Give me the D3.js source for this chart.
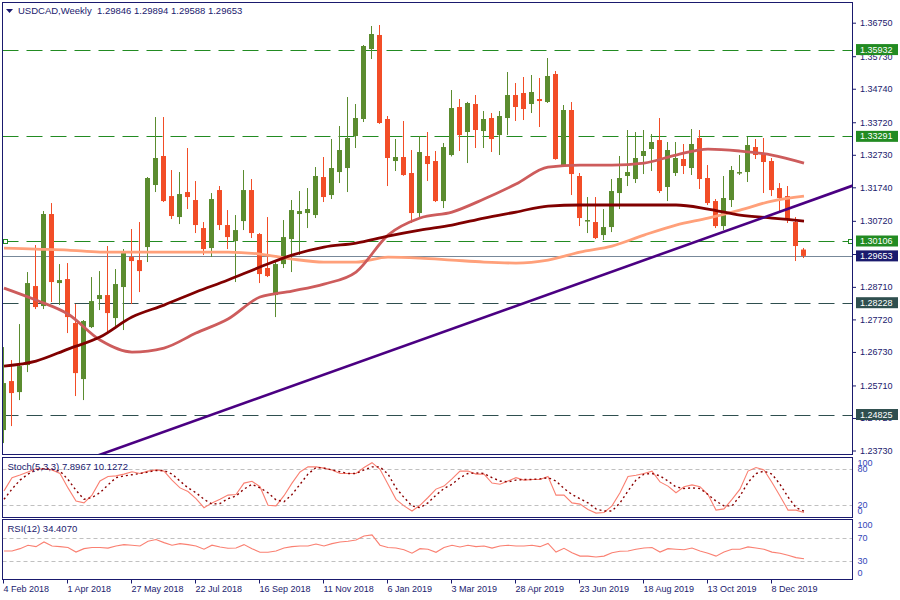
<!DOCTYPE html>
<html><head><meta charset="utf-8">
<script src="https://cdn.jsdelivr.net/npm/d3@7"></script>
<style>
html,body{margin:0;padding:0;background:#fff;}
svg{display:block;}
text{font-family:"Liberation Sans",Arial,sans-serif;}
</style></head><body>
<svg id="c" width="900" height="600"></svg>
<script>
// ---------------- DATA ----------------
const symbolTitle = "USDCAD,Weekly  1.29846 1.29894 1.29588 1.29653";
const stochTitle = "Stoch(5,3,3) 7.8967 10.1272";
const rsiTitle = "RSI(12) 34.4070";

const openP = [1.24352,1.25843,1.25508,1.26330,1.28735,1.28126,1.30927,1.28826,1.28948,1.27609,
1.25904,1.27487,1.28339,1.28461,1.27761,1.28705,1.29618,1.29526,1.29922,1.31810,
1.32693,1.31474,1.30835,1.31596,1.31353,1.30500,1.29892,1.31657,1.30592,1.30105,
1.30713,1.31657,1.30318,1.29283,1.28461,1.29404,1.30165,1.30927,1.30957,1.30896,
1.32053,1.31505,1.32205,1.32327,1.33301,1.33819,1.35949,1.36376,1.33819,1.32540,
1.32662,1.32175,1.30957,1.32693,1.32540,1.31322,1.32723,1.34184,1.33423,1.34275,
1.33453,1.33849,1.33331,1.33849,1.34549,1.34610,1.34275,1.34427,1.34336,1.35188,
1.32388,1.34093,1.32084,1.30713,1.30683,1.30287,1.30531,1.31566,1.32084,1.31992,
1.32693,1.32906,1.33179,1.31749,1.32175,1.32601,1.32327,1.33240,1.32023,1.31322,
1.30561,1.31353,1.32175,1.32205,1.32966,1.32753,1.32540,1.31718,1.31474,1.30683,1.29846];
const highP = [1.26878,1.26482,1.27578,1.29161,1.29983,1.31018,1.31261,1.29404,1.29435,1.28187,
1.27700,1.29009,1.29191,1.29953,1.29252,1.29862,1.30470,1.30683,1.32053,1.33879,
1.33879,1.32266,1.32205,1.32936,1.31931,1.30683,1.31566,1.31779,1.31048,1.30896,
1.32266,1.31992,1.30348,1.30835,1.29466,1.30744,1.31353,1.31627,1.31718,1.32357,
1.32662,1.33210,1.33605,1.34488,1.34275,1.36071,1.36650,1.36680,1.33910,1.33210,
1.33758,1.32875,1.33301,1.33423,1.32845,1.33088,1.34701,1.34427,1.34340,1.34549,
1.34062,1.34001,1.34062,1.35249,1.34914,1.35097,1.35158,1.35067,1.35675,1.35280,
1.34245,1.34336,1.32175,1.31444,1.31444,1.31079,1.31992,1.32693,1.33484,1.33423,
1.33484,1.33362,1.33849,1.33119,1.33119,1.33058,1.33514,1.33484,1.32418,1.31383,
1.32084,1.32388,1.32723,1.33271,1.33210,1.33240,1.32632,1.31870,1.31779,1.30835,1.29894];
const lowP = [1.23956,1.24473,1.25265,1.26117,1.28035,1.28035,1.28248,1.28157,1.27304,1.25387,
1.25265,1.27457,1.28004,1.27274,1.27457,1.27396,1.28187,1.28552,1.29466,1.31596,
1.31292,1.30774,1.30622,1.31079,1.30348,1.29679,1.29618,1.30439,1.29861,1.28857,
1.30439,1.30196,1.28826,1.29009,1.27791,1.29283,1.29161,1.29679,1.30500,1.30805,
1.31292,1.31383,1.31870,1.31596,1.32936,1.33727,1.35645,1.33670,1.31779,1.32236,
1.32090,1.30653,1.30835,1.31931,1.31292,1.31109,1.32680,1.32845,1.32479,1.32936,
1.32936,1.32814,1.32723,1.33331,1.33758,1.33788,1.34001,1.33575,1.34306,1.32580,
1.32357,1.31505,1.30561,1.30348,1.30165,1.30135,1.30378,1.31079,1.31779,1.31870,
1.32144,1.32236,1.31566,1.31322,1.32084,1.32144,1.32114,1.31688,1.31200,1.30500,
1.30439,1.31140,1.32114,1.31901,1.32601,1.31566,1.31474,1.31018,1.30653,1.29496,1.29588];
const closeP = [1.25782,1.25478,1.26300,1.28826,1.28096,1.30927,1.28857,1.28917,1.27791,1.26086,
1.27670,1.28278,1.28461,1.27913,1.28796,1.29740,1.29496,1.29191,1.32023,1.32632,
1.31322,1.30866,1.31535,1.31444,1.30592,1.29861,1.31383,1.30592,1.30226,1.30439,
1.31657,1.30348,1.29100,1.29039,1.29404,1.30226,1.31048,1.31018,1.31079,1.32084,
1.31444,1.32327,1.32875,1.33240,1.33849,1.36041,1.36406,1.33697,1.32632,1.32662,
1.32114,1.30957,1.32814,1.32449,1.31322,1.32966,1.34153,1.33331,1.34306,1.33484,
1.33819,1.33210,1.33910,1.34549,1.34184,1.34123,1.34640,1.34366,1.35128,1.32601,
1.34093,1.32144,1.30805,1.30744,1.30196,1.30531,1.31627,1.32023,1.32205,1.32632,
1.32845,1.33119,1.31627,1.32875,1.32632,1.32388,1.33058,1.31992,1.31261,1.30561,
1.31414,1.32266,1.32205,1.33027,1.32723,1.32510,1.31657,1.31414,1.30744,1.29953,1.29653];

// moving averages read every 4th bar
const maIndex = [0,4,8,12,16,20,24,28,32,36,40,44,48,52,56,60,64,68,72,76,80,84,88,92,96,100];
const maSalmon = [1.29892,1.29861,1.29831,1.29770,1.29770,1.29770,1.29770,1.29770,1.29709,1.29557,
1.29465,1.29465,1.29618,1.29587,1.29526,1.29465,1.29435,1.29526,1.29770,1.29952,
1.30287,1.30592,1.30805,1.31048,1.31322,1.31475];
const maIndianRed = [1.28674,1.28309,1.27883,1.27091,1.26726,1.26848,1.27304,1.27730,1.28400,1.28583,
1.28796,1.29161,1.30287,1.30805,1.30987,1.31383,1.31840,1.32357,1.32418,1.32418,
1.32479,1.32723,1.32905,1.32844,1.32723,1.32479];
const maMaroon = [1.26300,1.26452,1.26817,1.27182,1.27791,1.28156,1.28552,1.28917,1.29313,1.29678,
1.29922,1.30044,1.30257,1.30440,1.30592,1.30805,1.30987,1.31170,1.31201,1.31201,
1.31201,1.31201,1.31079,1.30896,1.30805,1.30714];

const trendIndex = [12, 100];
const trendPrice = [1.23603, 1.31262];

const greenLevels = [1.35932, 1.33291, 1.30106];
const slateLevels = [1.28228, 1.24825];
const lastPrice = 1.29653;

const priceTicks = [1.36750,1.35730,1.34740,1.33720,1.32730,1.31740,1.30720,1.29710,1.28710,1.27720,1.26730,1.25710,1.24720,1.23730];
const dateIndex = [0,8,16,24,32,40,48,56,64,72,80,88,96];
const dateLabels = ["4 Feb 2018","1 Apr 2018","27 May 2018","22 Jul 2018","16 Sep 2018","11 Nov 2018","6 Jan 2019","3 Mar 2019","28 Apr 2019","23 Jun 2019","18 Aug 2019","13 Oct 2019","8 Dec 2019"];

const stochK = [44,66,70.5,75.6,81,81,79,73,49,27,24,37,60.5,68,69,72,76,73,77,79,77,62,49,43,31,16,24,30,37,38,57,60,51,20,19,36,
57,75.6,84,84,82,79,73,73,73,83,91,80,55,30,19,10.5,20,33,47,52,64,77,77,72,72,57,55,60.5,66,62,63,63,68,37,37,
24,22,13,7,8,19,41,68,70,73,77,59,52,41,51,54,51,38,12,14,30,47,77,83,79,58,35.5,12,12,7.8967];
const stochD = [30,47,62,72,79,81,80,77,63,45,30,33,41,54,66,69,71,73,75.5,78,78,72,60.5,49,41,30,22,23,31,35.5,47,55,49,41,29,26,
38,55,72,83,82,79,76,73,73,79,84,84,72,49,33,19,16,24,37,48,55,66,73,74,73,66,60.5,59,62,63,63,64,66,60.5,48,
38,31,24,14,10.5,10.5,24,44,62,72,73,69,60.5,50.5,48,49,48,38,27,19,19,35.5,58,73,77,72,55,34,16,10.1272];
const rsiVals = [48,48,52,58,55.5,63.6,56.7,55.5,54,46,52,54,54,53,56.7,59,58,56.7,65,68,62.5,58,60.7,59,56.7,51,58,55,52.6,53,59,52,45.7,45.7,48,53,
55.5,56.7,56.7,60,56.7,60.7,63.6,65,67,74,76,58,54,53,50,44,52,51,45.7,54,58,55,58,55.5,56.7,53,56.7,58,56.7,56.7,58,55.5,61,46,52.6,
45,39,39,37.5,39,45,47.4,48,51,53,54,46,52,51,50,53,48,44,39,46,51,51,55,53,51,46,44,40.4,36.4,34.407];

const stochLevels = [80, 20];
const stochLabels = [100, 80, 20, 0];
const rsiLevels = [70, 30];
const rsiLabels = [100, 70, 30, 0];

// ---------------- DRAW ----------------
const navy = "#1a1a6e";
const upCol = "#5b8c2f", dnCol = "#f24d27";
const svg = d3.select("#c");
const L = 2.5, AX = 852.5;
const mainTop = 2.5, mainBot = 454.5, stTop = 457.5, stBot = 517.5, rsTop = 519.5, rsBot = 579.5;

const x = d3.scaleLinear().domain([0, 100]).range([4, 804]);
const y = d3.scaleLinear().domain([1.23730, 1.36750]).range([450.5, 22.7]);
const ys = d3.scaleLinear().domain([0, 100]).range([517.3, 457.3]);
const yr = d3.scaleLinear().domain([0, 100]).range([578.55, 521.05]);

const defs = svg.append("defs");
function clip(id, y0, y1) {
  defs.append("clipPath").attr("id", id).append("rect")
    .attr("x", 3).attr("y", y0).attr("width", AX - 3).attr("height", y1 - y0);
}
clip("cm", 3, 454); clip("cs", 458, 517); clip("cr", 520, 579);

const gm = svg.append("g").attr("clip-path", "url(#cm)");
const crisp = v => Math.round(v) + 0.5;

// levels
greenLevels.forEach(v => {
  gm.append("line").attr("x1", L).attr("x2", AX).attr("y1", crisp(y(v))).attr("y2", crisp(y(v)))
    .attr("stroke", "#228b22").attr("stroke-width", 1).attr("stroke-dasharray", "16,8");
});
slateLevels.forEach(v => {
  gm.append("line").attr("x1", L).attr("x2", AX).attr("y1", crisp(y(v))).attr("y2", crisp(y(v)))
    .attr("stroke", "#2f4f4f").attr("stroke-width", 1).attr("stroke-dasharray", "16,8");
});
gm.append("line").attr("x1", L).attr("x2", AX).attr("y1", crisp(y(lastPrice))).attr("y2", crisp(y(lastPrice)))
  .attr("stroke", "#778899").attr("stroke-width", 1);
// selection squares on the 1.30106 line
[3.5, 848.5].forEach(sx => {
  gm.append("rect").attr("x", sx).attr("y", crisp(y(greenLevels[2])) - 2).attr("width", 4).attr("height", 4)
    .attr("fill", "#fff").attr("stroke", "#228b22").attr("stroke-width", 1);
});

// candles
const idx = d3.range(openP.length);
const cg = gm.append("g");
cg.selectAll("line.w").data(idx).join("line")
  .attr("x1", i => x(i) - 0.5).attr("x2", i => x(i) - 0.5)
  .attr("y1", i => y(highP[i])).attr("y2", i => y(lowP[i]))
  .attr("stroke", i => closeP[i] >= openP[i] ? upCol : dnCol).attr("stroke-width", 1);
cg.selectAll("rect.b").data(idx).join("rect")
  .attr("x", i => x(i) - 3).attr("width", 5)
  .attr("y", i => y(Math.max(openP[i], closeP[i])))
  .attr("height", i => Math.max(1.5, Math.abs(y(openP[i]) - y(closeP[i]))))
  .attr("fill", i => closeP[i] >= openP[i] ? upCol : dnCol);

// moving averages
const maLine = d3.line().x((d, k) => x(maIndex[k])).y(d => y(d)).curve(d3.curveMonotoneX);
[[maSalmon, "#ffa07a"], [maIndianRed, "#cd5c5c"], [maMaroon, "#800000"]].forEach(([arr, col]) => {
  gm.append("path").attr("d", maLine(arr)).attr("fill", "none").attr("stroke", col).attr("stroke-width", 2.8);
});

// trend line (extended)
const slope = (trendPrice[1] - trendPrice[0]) / (trendIndex[1] - trendIndex[0]);
const tp = i => trendPrice[0] + slope * (i - trendIndex[0]);
gm.append("line").attr("x1", x(8)).attr("y1", y(tp(8))).attr("x2", x(110)).attr("y2", y(tp(110)))
  .attr("stroke", "#4b0082").attr("stroke-width", 2.6);

// stochastic
const gs = svg.append("g").attr("clip-path", "url(#cs)");
stochLevels.forEach(v => gs.append("line").attr("x1", L).attr("x2", AX).attr("y1", crisp(ys(v))).attr("y2", crisp(ys(v)))
  .attr("stroke", "#c0c0c0").attr("stroke-dasharray", "4,3"));
const sLine = d3.line().x((d, i) => x(i)).y(d => ys(d));
gs.append("path").attr("d", sLine(stochK)).attr("fill", "none").attr("stroke", "#fa8072").attr("stroke-width", 1.1);
gs.append("path").attr("d", sLine(stochD)).attr("fill", "none").attr("stroke", "#8b0000").attr("stroke-width", 1.4).attr("stroke-dasharray", "2,3");

// RSI
const gr = svg.append("g").attr("clip-path", "url(#cr)");
rsiLevels.forEach(v => gr.append("line").attr("x1", L).attr("x2", AX).attr("y1", crisp(yr(v))).attr("y2", crisp(yr(v)))
  .attr("stroke", "#c0c0c0").attr("stroke-dasharray", "4,3"));
const rLine = d3.line().x((d, i) => x(i)).y(d => yr(d));
gr.append("path").attr("d", rLine(rsiVals)).attr("fill", "none").attr("stroke", "#fa8072").attr("stroke-width", 1.1);

// borders
[[mainTop, mainBot], [stTop, stBot], [rsTop, rsBot]].forEach(([a, b]) => {
  svg.append("rect").attr("x", L).attr("y", a).attr("width", AX - L).attr("height", b - a)
    .attr("fill", "none").attr("stroke", navy).attr("stroke-width", 1);
});

// price axis
const pa = svg.append("g").attr("transform", `translate(${AX - 0.5},0)`)
  .call(d3.axisRight(y).tickValues(priceTicks).tickFormat(d3.format(".5f")).tickSize(4).tickPadding(4));
pa.select(".domain").remove();
pa.selectAll("line").attr("stroke", navy);
pa.selectAll("text").attr("fill", navy).style("font-size", "9px").style("font-family", '"Liberation Sans",Arial,sans-serif');

// level price boxes
function box(v, col) {
  const yy = y(v);
  svg.append("rect").attr("x", 856).attr("y", yy - 5.5).attr("width", 42).attr("height", 11).attr("fill", col);
  svg.append("text").attr("x", 860).attr("y", yy).attr("dy", "0.34em").attr("fill", "#fff")
    .style("font-size", "9px").text(d3.format(".5f")(v));
}
greenLevels.forEach(v => box(v, "#228b22"));
slateLevels.forEach(v => box(v, "#2f4f4f"));
box(lastPrice, "#1a1a6e");

// date axis
const da = svg.append("g").attr("transform", `translate(-1,${rsBot})`)
  .call(d3.axisBottom(x).tickValues(dateIndex).tickFormat((d, k) => dateLabels[k]).tickSize(4).tickPadding(2));
da.select(".domain").remove();
da.selectAll("line").attr("stroke", navy);
da.selectAll("text").attr("fill", navy).attr("text-anchor", "start")
  .style("font-size", "9px").style("font-family", '"Liberation Sans",Arial,sans-serif');

// indicator scale labels
function sideLabels(vals, sc, top, bot) {
  vals.forEach(v => {
    const yy = Math.min(Math.max(sc(v), top + 5), bot - 6.5);
    svg.append("text").attr("x", 857.5).attr("y", yy).attr("dy", "0.34em").attr("fill", "#3346b8")
      .style("font-size", "9px").text(v);
  });
}
sideLabels(stochLabels, ys, stTop, stBot);
sideLabels(rsiLabels, yr, rsTop, rsBot);

// titles
svg.append("path").attr("d", "M6,9 L13,9 L9.5,13 Z").attr("fill", navy);
svg.append("text").attr("x", 18).attr("y", 14).attr("fill", navy).style("font-size", "9.5px")
  .style("white-space", "pre").text(symbolTitle);
svg.append("text").attr("x", 7.5).attr("y", 469.5).attr("fill", navy).style("font-size", "9.5px").text(stochTitle);
svg.append("text").attr("x", 7.5).attr("y", 531.5).attr("fill", navy).style("font-size", "9.5px").text(rsiTitle);
</script>
</body></html>
